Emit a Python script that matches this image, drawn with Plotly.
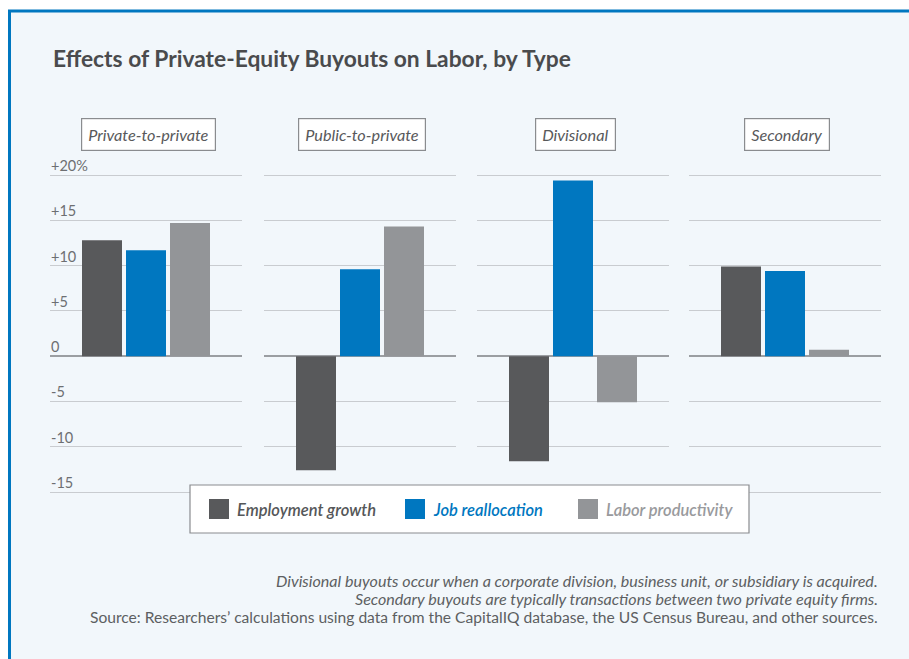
import plotly.graph_objects as go

W, H = 909, 659

# ---- data ----
panels = ["Private-to-private", "Public-to-private", "Divisional", "Secondary"]
series = ["Employment growth", "Job reallocation", "Labor productivity"]
employment_growth = [12.8, -12.6, -11.6, 9.9]
job_reallocation = [11.7, 9.6, 19.4, 9.4]
labor_productivity = [14.7, 14.3, -5.1, 0.7]
tick_values = [20, 15, 10, 5, 0, -5, -10, -15]
tick_labels = ["+20%", "+15", "+10", "+5", "0", "-5", "-10", "-15"]
title_text = "Effects of Private-Equity Buyouts on Labor, by Type"
notes = [
    "<i>Divisional buyouts occur when a corporate division, business unit, or subsidiary is acquired.</i>",
    "<i>Secondary buyouts are typically transactions between two private equity firms.</i>",
    "Source: Researchers’ calculations using data from the CapitalIQ database, the US Census Bureau, and other sources.",
]

values = [employment_growth, job_reallocation, labor_productivity]
colors = ["#58595b", "#0077c0", "#939598"]
legend_text_colors = ["#555759", "#0077c0", "#999a9d"]

FONT = "Lato"

def px(x):
    return x / W

def py(y):
    return 1 - y / H

# panel pixel extents
panel_px = [(50, 242), (264, 456), (477, 669), (689, 881)]
y_lo, y_hi = -15.3, 20.3
ppu = (492 - 175) / 35.0
dom_top = 175 - 0.3 * ppu
dom_bot = 492 + 0.3 * ppu

fig = go.Figure()

for si, s in enumerate(series):
    for pi, p in enumerate(panels):
        ax = "" if pi == 0 else str(pi + 1)
        fig.add_trace(go.Bar(
            x=[p], y=[values[si][pi]], name=s,
            marker=dict(color=colors[si], line=dict(width=0)),
            xaxis="x" + ax, yaxis="y" + ax,
            offsetgroup=s, showlegend=False,
            hovertemplate=s + ": %{y}<extra>" + p + "</extra>",
        ))

layout = dict(
    width=W, height=H,
    margin=dict(l=0, r=0, t=0, b=0),
    paper_bgcolor="white",
    plot_bgcolor="rgba(0,0,0,0)",
    barmode="group",
    bargap=0.3125,
    bargroupgap=0.0909,
    showlegend=False,
    font=dict(family=FONT, color="#555759"),
)

for pi, p in enumerate(panels):
    ax = "" if pi == 0 else str(pi + 1)
    x0, x1 = panel_px[pi]
    layout["xaxis" + ax] = dict(
        domain=[px(x0), px(x1)], type="category", range=[-0.5, 0.5],
        visible=False, anchor="y" + ax, fixedrange=True,
    )
    layout["yaxis" + ax] = dict(
        domain=[py(dom_bot), py(dom_top)], range=[y_lo, y_hi],
        anchor="x" + ax, tickvals=tick_values, showticklabels=False,
        showgrid=True, gridcolor="#c9ccd0", gridwidth=1.3,
        zeroline=True, zerolinecolor="#9b9ea2", zerolinewidth=2,
        showline=False, ticks="", fixedrange=True,
    )

fig.update_layout(**layout)

shapes = []
# background frame
shapes.append(dict(type="rect", xref="paper", yref="paper",
                   x0=px(9.5), x1=px(W + 20), y0=py(H + 20), y1=py(11),
                   fillcolor="#f2f7fb", line=dict(color="#0077c0", width=3),
                   layer="below"))

annotations = []
# title
annotations.append(dict(text="<b>" + title_text + "</b>", xref="paper", yref="paper",
                        x=px(51), y=py(58), xanchor="left", yanchor="middle",
                        showarrow=False, font=dict(size=22.8, color="#4a4b4d", family=FONT)))

# panel titles
for pi, p in enumerate(panels):
    x0, x1 = panel_px[pi]
    annotations.append(dict(text="<i>" + p + "</i>", xref="paper", yref="paper",
                            x=px((x0 + x1) / 2 + 2), y=py(134.5), xanchor="center", yanchor="middle",
                            showarrow=False, bgcolor="white", bordercolor="#8a8c8f",
                            borderwidth=1.2, borderpad=6,
                            font=dict(size=16.3, color="#58595b", family=FONT)))

# y tick labels
for v, t in zip(tick_values, tick_labels):
    annotations.append(dict(text=t, xref="paper", yref="y", x=px(49), y=v,
                            xanchor="left", yanchor="bottom", yshift=-1,
                            showarrow=False, font=dict(size=14.5, color="#6d6f72", family=FONT)))

# custom legend
shapes.append(dict(type="rect", xref="paper", yref="paper",
                   x0=px(190), x1=px(749), y0=py(533), y1=py(485),
                   fillcolor="white", line=dict(color="#8a8c8f", width=1.2)))
leg_sq_x = [209, 405, 578]
for si, s in enumerate(series):
    sx = leg_sq_x[si]
    shapes.append(dict(type="rect", xref="paper", yref="paper",
                       x0=px(sx), x1=px(sx + 20), y0=py(519), y1=py(499),
                       fillcolor=colors[si], line=dict(width=0)))
    annotations.append(dict(text="<i>" + s + "</i>",
                            xref="paper", yref="paper", x=px(sx + 26), y=py(509.5),
                            xanchor="left", yanchor="middle", showarrow=False,
                            font=dict(size=16.5, color=legend_text_colors[si], family=FONT,
                                      weight=600)))

# footnotes
note_sizes = [16.1, 16.1, 15.6]
for i, (t, yy) in enumerate(zip(notes, [580, 598, 617])):
    annotations.append(dict(text=t, xref="paper", yref="paper", x=px(880), y=py(yy),
                            xanchor="right", yanchor="middle", showarrow=False,
                            font=dict(size=note_sizes[i], color="#5d5f62", family=FONT)))

fig.update_layout(shapes=shapes, annotations=annotations)

fig.write_html("out.html", config={"displayModeBar": False},
               post_script="document.body.style.margin='0';")
